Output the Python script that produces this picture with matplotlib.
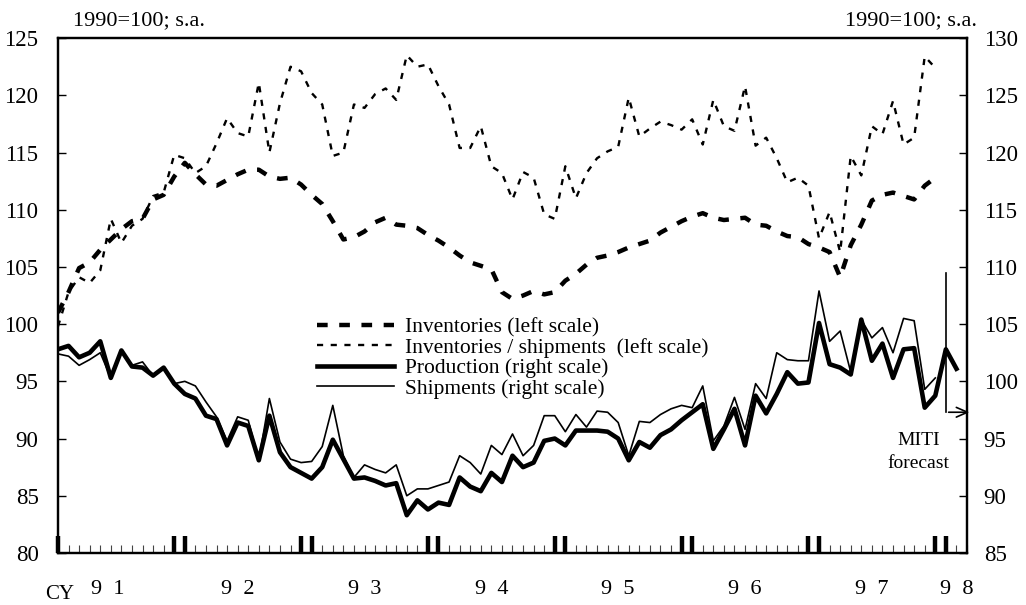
import matplotlib
matplotlib.use("Agg")
import matplotlib.pyplot as plt

plt.rcParams['font.family'] = ['Liberation Serif', 'DejaVu Serif']

# monthly, Jan 1991 = 0
inventories = [101.0, 102.8, 104.9, 105.4, 106.5, 107.4, 108.3, 109.0, 109.2, 110.9, 111.3, 112.9,
               114.1, 113.1, 112.2, 112.1, 112.6, 113.1, 113.5, 113.5, 112.9, 112.7, 112.8, 112.2,
               111.3, 110.5, 109.0, 107.4, 107.6, 108.1, 108.9, 109.3, 108.7, 108.6, 108.4, 107.8,
               107.3, 106.7, 106.0, 105.4, 105.1, 104.8, 102.8, 102.2, 102.5, 102.9, 102.6, 102.8,
               103.8, 104.4, 105.2, 105.8, 106.0, 106.3, 106.7, 107.0, 107.3, 108.0, 108.5, 109.0,
               109.4, 109.7, 109.3, 109.1, 109.2, 109.3, 108.7, 108.6, 108.1, 107.7, 107.6, 107.0,
               106.7, 106.3, 104.1, 106.9, 108.7, 110.8, 111.3, 111.5, 111.2, 110.9, 112.1, 112.8]

inv_ship = [99.8, 102.8, 104.1, 103.6, 104.7, 109.2, 107.1, 108.6, 109.2, 111.2, 111.5, 114.8,
            114.5, 113.2, 113.8, 115.8, 118.0, 116.7, 116.4, 121.1, 115.0, 119.3, 122.5, 122.1,
            120.2, 119.2, 114.7, 115.0, 119.2, 118.9, 120.1, 120.6, 119.6, 123.5, 122.5, 122.7,
            120.8, 119.2, 115.4, 115.4, 117.3, 113.8, 113.2, 110.9, 113.3, 112.8, 109.6, 109.2,
            113.8, 111.0, 113.2, 114.5, 115.1, 115.5, 119.8, 116.4, 117.1, 117.7, 117.4, 117.0,
            117.9, 115.7, 119.6, 117.3, 116.9, 120.8, 115.6, 116.3, 114.5, 112.4, 112.8, 112.1,
            107.5, 109.8, 106.3, 114.7, 113.0, 117.3, 116.6, 119.5, 115.7, 116.3, 123.4, 122.4]

production = [102.8, 103.1, 102.1, 102.5, 103.5, 100.3, 102.7, 101.3, 101.2, 100.5, 101.2, 99.8,
              98.9, 98.5, 97.0, 96.7, 94.4, 96.4, 96.1, 93.1, 97.0, 93.8, 92.5, 92.0,
              91.5, 92.5, 94.9, 93.2, 91.5, 91.6, 91.3, 90.9, 91.1, 88.3, 89.6, 88.8,
              89.4, 89.2, 91.6, 90.8, 90.4, 92.0, 91.2, 93.5, 92.5, 92.9, 94.8, 95.0,
              94.4, 95.7, 95.7, 95.7, 95.6, 95.0, 93.1, 94.7, 94.2, 95.3, 95.8, 96.6,
              97.3, 98.0, 94.1, 95.8, 97.6, 94.4, 98.75, 97.2, 98.9, 100.8, 99.8, 99.9,
              105.1, 101.5, 101.2, 100.6, 105.4, 101.8, 103.3, 100.3, 102.8, 102.9, 97.7, 98.75,
              102.8, 101.1]

shipments = [102.4, 102.2, 101.4, 101.9, 102.5, 100.3, 102.6, 101.4, 101.7, 100.5, 101.2, 99.8,
             100.0, 99.6, 98.2, 96.9, 94.8, 96.9, 96.6, 93.1, 98.5, 94.7, 93.2, 92.9,
             93.0, 94.3, 97.9, 93.5, 91.6, 92.7, 92.3, 92.0, 92.7, 90.0, 90.6, 90.6,
             90.9, 91.2, 93.5, 92.9, 91.9, 94.4, 93.6, 95.4, 93.5, 94.4, 97.0, 97.0,
             95.6, 97.1, 96.0, 97.4, 97.3, 96.4, 93.5, 96.5, 96.4, 97.1, 97.6, 97.9,
             97.7, 99.6, 94.8, 96.1, 98.6, 95.8, 99.8, 98.5, 102.5, 101.9, 101.8, 101.8,
             107.9, 103.5, 104.4, 100.8, 105.4, 103.8, 104.7, 102.5, 105.5, 105.3, 99.3, 100.3]

year_labels = ['9  1', '9  2', '9  3', '9  4', '9  5', '9  6', '9  7', '9  8']
year_label_pos = [4.7, 17, 29, 41, 53, 65, 77, 85]
n_months = 86

fig = plt.figure(figsize=(10.26, 6.05), dpi=100)
ax = fig.add_axes([0.0565, 0.086, 0.886, 0.851])
ax2 = ax.twinx()

l1, = ax.plot(range(len(inventories)), inventories, color='black', lw=3.2,
              dashes=(2.4, 2.6), label='Inventories (left scale)')
l2, = ax.plot(range(len(inv_ship)), inv_ship, color='black', lw=1.7,
              dashes=(2.6, 3.2), label='Inventories / shipments  (left scale)')
l3, = ax2.plot(range(len(production)), production, color='black', lw=3.3,
               label='Production (right scale)')
l4, = ax2.plot(range(len(shipments)), shipments, color='black', lw=1.2,
               label='Shipments (right scale)')

ax.set_xlim(0, n_months)
ax.set_ylim(80, 125)
ax2.set_ylim(85, 130)
ax.set_yticks(range(80, 126, 5))
ax2.set_yticks(range(85, 131, 5))

for a in (ax, ax2):
    for s in a.spines.values():
        s.set_linewidth(1.6)

ax.tick_params(axis='y', direction='in', length=6, width=1, labelsize=16.5, pad=14)
ax2.tick_params(axis='y', direction='in', length=6, width=1, labelsize=16.5, pad=12)

# month ticks, bold around each year change
bold = [0] + [p for k in range(1, 8) for p in (12 * k - 1, 12 * k)]
ax.set_xticks(bold)
ax.set_xticklabels([])
ax.set_xticks(range(n_months + 1), minor=True)
ax.tick_params(axis='x', which='major', direction='in', length=12, width=3.2)
ax.tick_params(axis='x', which='minor', direction='in', length=6, width=0.8, colors='#444444')

for lab, p in zip(year_labels, year_label_pos):
    ax.text(p, -0.07, lab, transform=ax.get_xaxis_transform(), ha='center', va='center', fontsize=16)
ax.text(0.2, -0.08, 'CY', transform=ax.get_xaxis_transform(), ha='center', va='center', fontsize=15)

fig.text(0.0712, 0.966, '1990=100; s.a.', ha='left', va='center', fontsize=16)
fig.text(0.952, 0.966, '1990=100; s.a.', ha='right', va='center', fontsize=16)

# forecast marker
ax2.plot([84, 84], [109.5, 97.3], color='black', lw=1.2, clip_on=False)
ax2.annotate('', xy=(86.5, 97.3), xytext=(84, 97.3), annotation_clip=False,
             arrowprops=dict(arrowstyle='->,head_length=0.8,head_width=0.35', lw=1.2, color='black'))
ax2.text(81.4, 94.8, 'MITI', ha='center', va='center', fontsize=14)
ax2.text(81.4, 92.8, 'forecast', ha='center', va='center', fontsize=14)

ax2.legend(handles=[l1, l2, l3, l4], loc='upper left', bbox_to_anchor=(0.275, 0.475),
           frameon=False, fontsize=15.5, handlelength=3.6, handletextpad=0.5,
           labelspacing=0.02, borderaxespad=0)

fig.savefig('out.png', dpi=100)
